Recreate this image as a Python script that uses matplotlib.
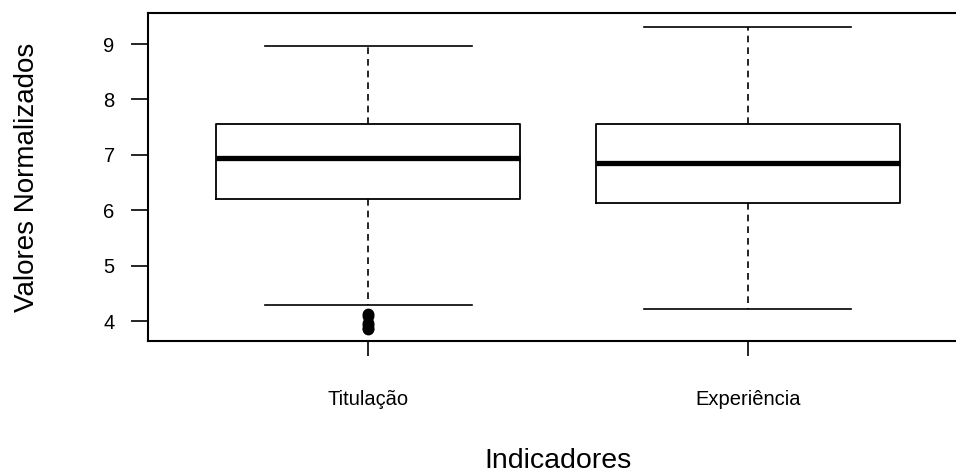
import matplotlib.pyplot as plt

plt.rcParams['font.family'] = ['Liberation Sans', 'DejaVu Sans']

# five-number summaries per indicator
categories = ['Titulação', 'Experiência']
whisker_low = [4.29, 4.22]
q1 = [6.20, 6.13]
median = [6.94, 6.85]
q3 = [7.56, 7.56]
whisker_high = [8.96, 9.31]
outliers = [[4.13, 4.10, 3.96, 3.92, 3.88, 3.85], []]

stats = []
for i, name in enumerate(categories):
    stats.append({
        'label': name,
        'whislo': whisker_low[i],
        'q1': q1[i],
        'med': median[i],
        'q3': q3[i],
        'whishi': whisker_high[i],
        'fliers': outliers[i],
    })

fig = plt.figure(figsize=(9.56, 4.72), dpi=100)
ax = fig.add_axes([148 / 956, 131 / 472, 820 / 956, 328 / 472])

ax.bxp(stats, positions=[1, 2], widths=0.8, capwidths=0.546,
       boxprops=dict(color='black', linewidth=1.3),
       medianprops=dict(color='black', linewidth=3.8, solid_capstyle='butt'),
       whiskerprops=dict(color='black', linewidth=1.2, linestyle=(0, (4, 3))),
       capprops=dict(color='black', linewidth=1.2),
       flierprops=dict(marker='o', markerfacecolor='black',
                       markeredgecolor='black', markersize=7.5))

ax.set_xlim(0.42, 2.58)
ax.set_ylim(3.64, 9.56)
ax.set_yticks([4, 5, 6, 7, 8, 9])

for sp in ax.spines.values():
    sp.set_linewidth(1.5)

ax.tick_params(axis='y', direction='out', length=12, width=1.2,
               labelsize=14.5, pad=12)
ax.tick_params(axis='x', direction='out', length=11, width=1.2,
               labelsize=14.5, pad=24)
ax.set_xticklabels(categories)

ax.set_ylabel('Valores Normalizados', fontsize=20, va='center')
ax.yaxis.set_label_coords(-0.147, 0.5)
ax.set_xlabel('Indicadores', fontsize=20.5, va='center')
ax.xaxis.set_label_coords(0.5, -0.366)

fig.savefig('out.png', dpi=100)
